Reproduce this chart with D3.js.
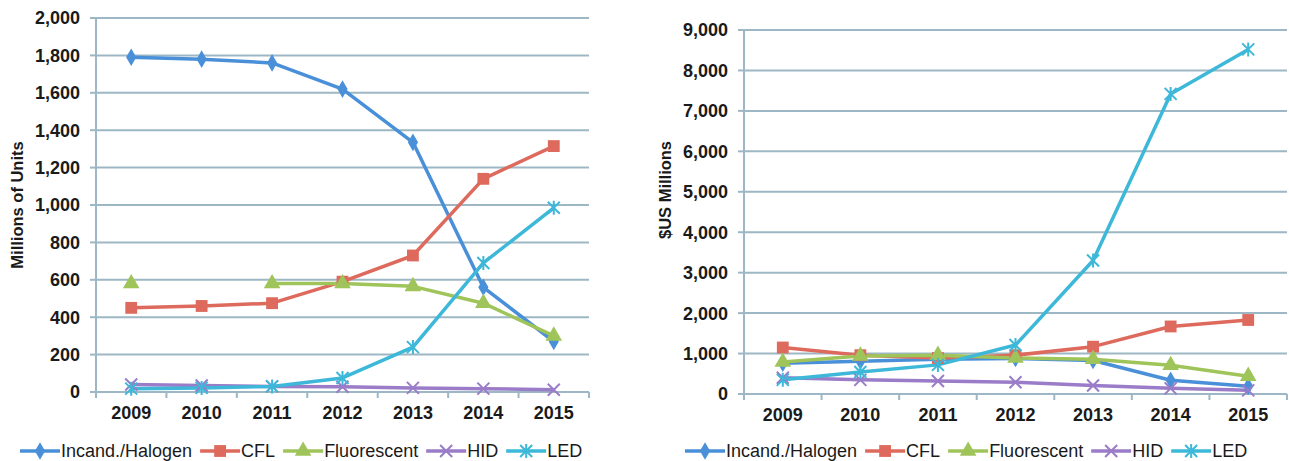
<!DOCTYPE html>
<html>
<head>
<meta charset="utf-8">
<script src="https://cdn.jsdelivr.net/npm/d3@7"></script>
<style>
  body { margin: 0; background: #fff; }
  svg text { font-family: "Liberation Sans", Arial, sans-serif; fill: #1a1a1a; }
</style>
</head>
<body>
<svg id="canvas" width="1289" height="461"></svg>
<script>
// categories
const years = ["2009", "2010", "2011", "2012", "2013", "2014", "2015"];
const seriesNames = ["Incand./Halogen", "CFL", "Fluorescent", "HID", "LED"];

// left chart: millions of units
const unitsIncand = [1790, 1780, 1760, 1620, 1335, 560, 270];
const unitsCFL = [450, 460, 475, 590, 730, 1140, 1315];
const unitsFluor = [580, null, 580, 580, 565, 475, 300];
const unitsHID = [40, 35, 30, 28, 22, 18, 12];
const unitsLED = [18, 22, 30, 75, 240, 690, 985];
const unitsTicks = [0, 200, 400, 600, 800, 1000, 1200, 1400, 1600, 1800, 2000];

// right chart: $US millions
const usdIncand = [760, 810, 860, 880, 830, 340, 190];
const usdCFL = [1150, 960, 890, 960, 1170, 1670, 1830];
const usdFluor = [790, 940, 960, 890, 860, 710, 440];
const usdHID = [400, 350, 320, 290, 210, 140, 90];
const usdLED = [350, 545, 720, 1210, 3300, 7420, 8520];
const usdTicks = [0, 1000, 2000, 3000, 4000, 5000, 6000, 7000, 8000, 9000];

const colors = ["#4a90d9", "#dd6a5c", "#9fc45a", "#9a7cc8", "#3db8d8"];
const markers = ["diamond", "square", "triangle", "x", "star"];

const svg = d3.select("#canvas");
const fmt = d3.format(",");

function drawMarker(g, type, color) {
    if (type === "diamond") {
        g.append("path").attr("d", d3.symbol(d3.symbolDiamond, 90)()).attr("fill", color);
    } else if (type === "square") {
        g.append("path").attr("d", d3.symbol(d3.symbolSquare, 140)()).attr("fill", color);
    } else if (type === "triangle") {
        g.append("path").attr("d", d3.symbol(d3.symbolTriangle, 120)()).attr("fill", color);
    } else if (type === "x") {
        g.append("path").attr("d", "M-6,-6L6,6M-6,6L6,-6").attr("stroke", color).attr("stroke-width", 2);
    } else {
        g.append("path").attr("d", "M-6,-6L6,6M-6,6L6,-6M0,-7L0,7").attr("stroke", color).attr("stroke-width", 2);
    }
}

function drawChart(opt) {
    const x = d3.scaleBand().domain(years).range([opt.left, opt.right]);
    const y = d3.scaleLinear().domain([0, opt.max]).range([opt.bottom, opt.top]);
    const g = svg.append("g");

    // gridlines
    g.selectAll(".grid")
        .data(opt.ticks.slice(1))
        .enter()
        .append("line")
        .attr("x1", opt.left).attr("x2", opt.right)
        .attr("y1", d => y(d)).attr("y2", d => y(d))
        .attr("stroke", "#9db7c4").attr("stroke-width", 2);

    // y axis
    g.append("line")
        .attr("x1", opt.left).attr("x2", opt.left)
        .attr("y1", opt.top).attr("y2", opt.bottom)
        .attr("stroke", "#9db7c4").attr("stroke-width", 2);
    g.selectAll(".ytick")
        .data(opt.ticks)
        .enter()
        .append("line")
        .attr("x1", opt.left - 6).attr("x2", opt.left)
        .attr("y1", d => y(d)).attr("y2", d => y(d))
        .attr("stroke", "#9db7c4").attr("stroke-width", 2);
    g.selectAll(".ylab")
        .data(opt.ticks)
        .enter()
        .append("text")
        .attr("x", opt.left - 16)
        .attr("y", d => y(d))
        .attr("dy", "0.36em")
        .attr("text-anchor", "end")
        .attr("font-size", 18)
        .attr("font-weight", "bold")
        .text(d => fmt(d));

    // x axis
    g.append("line")
        .attr("x1", opt.left).attr("x2", opt.right)
        .attr("y1", opt.bottom).attr("y2", opt.bottom)
        .attr("stroke", "#9db7c4").attr("stroke-width", 2);
    g.selectAll(".xtick")
        .data(years.concat(["end"]))
        .enter()
        .append("line")
        .attr("x1", (d, i) => opt.left + i * x.bandwidth())
        .attr("x2", (d, i) => opt.left + i * x.bandwidth())
        .attr("y1", opt.bottom).attr("y2", opt.bottom + 6)
        .attr("stroke", "#9db7c4").attr("stroke-width", 2);
    g.selectAll(".xlab")
        .data(years)
        .enter()
        .append("text")
        .attr("x", d => x(d) + x.bandwidth() / 2)
        .attr("y", opt.bottom + 27)
        .attr("text-anchor", "middle")
        .attr("font-size", 18)
        .attr("font-weight", "bold")
        .text(d => d);

    // y title
    g.append("text")
        .attr("transform", `translate(${opt.titleX}, ${opt.titleY}) rotate(-90)`)
        .attr("text-anchor", "middle")
        .attr("font-size", 16.5)
        .attr("font-weight", "bold")
        .text(opt.title);

    // series
    const line = d3.line()
        .defined(d => d !== null)
        .x((d, i) => x(years[i]) + x.bandwidth() / 2)
        .y(d => y(d));

    opt.series.forEach((vals, s) => {
        g.append("path")
            .attr("d", line(vals))
            .attr("fill", "none")
            .attr("stroke", colors[s])
            .attr("stroke-width", 3.5)
            .attr("stroke-linejoin", "round");
    });
    opt.series.forEach((vals, s) => {
        vals.forEach((v, i) => {
            if (v === null) return;
            const m = g.append("g")
                .attr("transform", `translate(${x(years[i]) + x.bandwidth() / 2}, ${y(v)})`);
            drawMarker(m, markers[s], colors[s]);
        });
    });

    // legend
    let lx = opt.legendX;
    const ly = 451;
    seriesNames.forEach((name, s) => {
        const lg = g.append("g");
        lg.append("line")
            .attr("x1", lx).attr("x2", lx + 40)
            .attr("y1", ly).attr("y2", ly)
            .attr("stroke", colors[s]).attr("stroke-width", 3.5);
        const m = lg.append("g").attr("transform", `translate(${lx + 20}, ${ly})`);
        drawMarker(m, markers[s], colors[s]);
        const t = lg.append("text")
            .attr("x", lx + 41)
            .attr("y", ly)
            .attr("dy", "0.36em")
            .attr("font-size", 18)
            .text(name);
        lx += 41 + t.node().getComputedTextLength() + 8;
    });
}

drawChart({
    left: 96, right: 589, top: 18, bottom: 392, max: 2000,
    ticks: unitsTicks, title: "Millions of Units", titleX: 23, titleY: 205, legendX: 20,
    series: [unitsIncand, unitsCFL, unitsFluor, unitsHID, unitsLED]
});

drawChart({
    left: 744, right: 1287, top: 30, bottom: 394, max: 9000,
    ticks: usdTicks, title: "$US Millions", titleX: 671, titleY: 190, legendX: 685,
    series: [usdIncand, usdCFL, usdFluor, usdHID, usdLED]
});
</script>
</body>
</html>
